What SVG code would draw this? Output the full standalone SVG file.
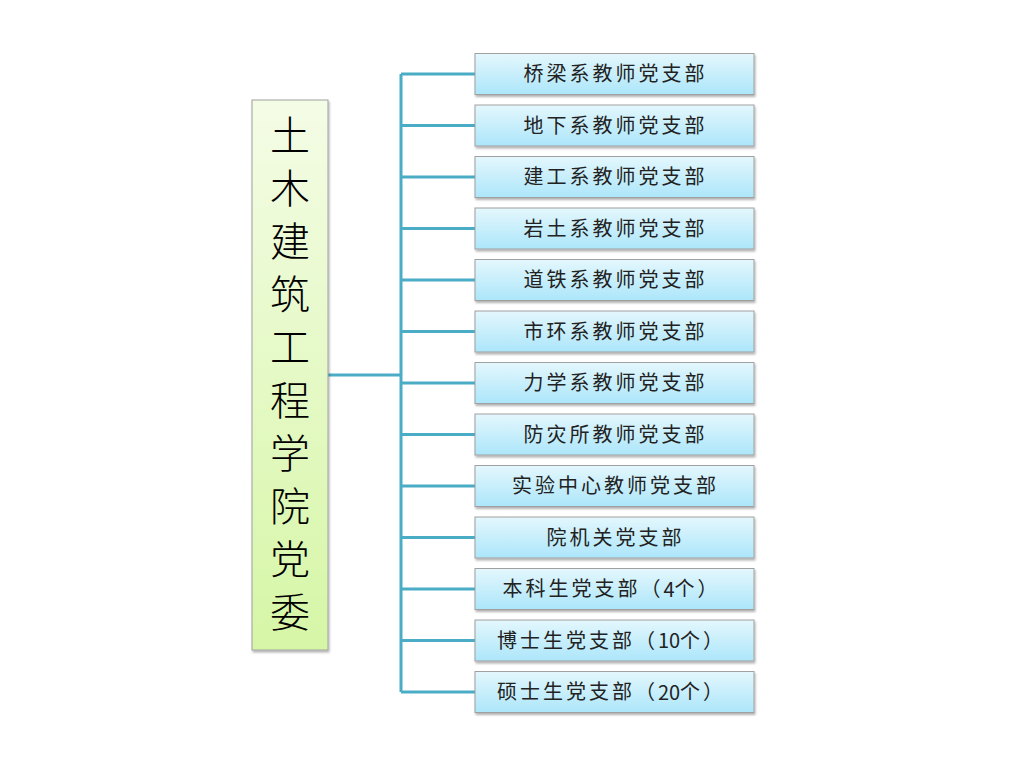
<svg xmlns="http://www.w3.org/2000/svg" width="1020" height="767" viewBox="0 0 1020 767">
<defs>
<linearGradient id="gL" x1="0" y1="0" x2="0" y2="1"><stop offset="0" stop-color="#f4fce6"/><stop offset="1" stop-color="#d6f6a6"/></linearGradient>
<linearGradient id="gB" x1="0" y1="0" x2="0" y2="1"><stop offset="0" stop-color="#e4f7fd"/><stop offset="1" stop-color="#ace6fa"/></linearGradient>
<filter id="sh" x="-10%" y="-10%" width="130%" height="140%"><feDropShadow dx="1" dy="2" stdDeviation="1.2" flood-color="#000" flood-opacity="0.3"/></filter>
<style>
.box{fill:url(#gB);stroke:#a0a0a0;stroke-width:1;filter:url(#sh)}
.t{font-family:"Noto Sans CJK SC","Liberation Sans",sans-serif;font-size:20px;letter-spacing:3px;fill:#222;text-anchor:middle;dominant-baseline:central}
.d{letter-spacing:0}
.c{stroke:#4bacc6;stroke-width:3;fill:none}
.big{font-family:"Noto Sans CJK SC",sans-serif;font-size:40px;fill:#000;text-anchor:middle;dominant-baseline:central;font-weight:300}
</style>
</defs>
<rect width="1020" height="767" fill="#fff"/>
<g id="connectors">
<path class="c" d="M401 74V692"/>
<path class="c" d="M328 375H401" stroke-width="4"/>
<path class="c" d="M401 74H475M401 125.5H475M401 177H475M401 228.5H475M401 280H475M401 331.5H475M401 383H475M401 434.5H475M401 486H475M401 537.5H475M401 589H475M401 640.5H475M401 692H475"/>
</g>
<g id="root">
<rect x="252" y="100" width="76" height="550" fill="url(#gL)" stroke="#a0a0a0" filter="url(#sh)"/>
<text class="big" x="290" y="133">土</text>
<text class="big" x="290" y="186">木</text>
<text class="big" x="290" y="239">建</text>
<text class="big" x="290" y="292">筑</text>
<text class="big" x="290" y="345">工</text>
<text class="big" x="290" y="398">程</text>
<text class="big" x="290" y="451">学</text>
<text class="big" x="290" y="504">院</text>
<text class="big" x="290" y="557">党</text>
<text class="big" x="290" y="610">委</text>
</g>
<g id="n1"><rect class="box" x="475" y="53.5" width="279" height="41"/><text class="t" x="615.5" y="72.5">桥梁系教师党支部</text></g>
<g id="n2"><rect class="box" x="475" y="105" width="279" height="41"/><text class="t" x="615.5" y="124">地下系教师党支部</text></g>
<g id="n3"><rect class="box" x="475" y="156.5" width="279" height="41"/><text class="t" x="615.5" y="175.5">建工系教师党支部</text></g>
<g id="n4"><rect class="box" x="475" y="208" width="279" height="41"/><text class="t" x="615.5" y="227">岩土系教师党支部</text></g>
<g id="n5"><rect class="box" x="475" y="259.5" width="279" height="41"/><text class="t" x="615.5" y="278.5">道铁系教师党支部</text></g>
<g id="n6"><rect class="box" x="475" y="311" width="279" height="41"/><text class="t" x="615.5" y="330">市环系教师党支部</text></g>
<g id="n7"><rect class="box" x="475" y="362.5" width="279" height="41"/><text class="t" x="615.5" y="381.5">力学系教师党支部</text></g>
<g id="n8"><rect class="box" x="475" y="414" width="279" height="41"/><text class="t" x="615.5" y="433">防灾所教师党支部</text></g>
<g id="n9"><rect class="box" x="475" y="465.5" width="279" height="41"/><text class="t" x="615.5" y="484.5">实验中心教师党支部</text></g>
<g id="n10"><rect class="box" x="475" y="517" width="279" height="41"/><text class="t" x="615.5" y="536">院机关党支部</text></g>
<g id="n11"><rect class="box" x="475" y="568.5" width="279" height="41"/><text class="t" x="611.5" y="587.5">本科生党支部（<tspan class="d">4</tspan>个）</text></g>
<g id="n12"><rect class="box" x="475" y="620" width="279" height="41"/><text class="t" x="611.5" y="639">博士生党支部（<tspan class="d">10</tspan>个）</text></g>
<g id="n13"><rect class="box" x="475" y="671.5" width="279" height="41"/><text class="t" x="611.5" y="690.5">硕士生党支部（<tspan class="d">20</tspan>个）</text></g>
</svg>
